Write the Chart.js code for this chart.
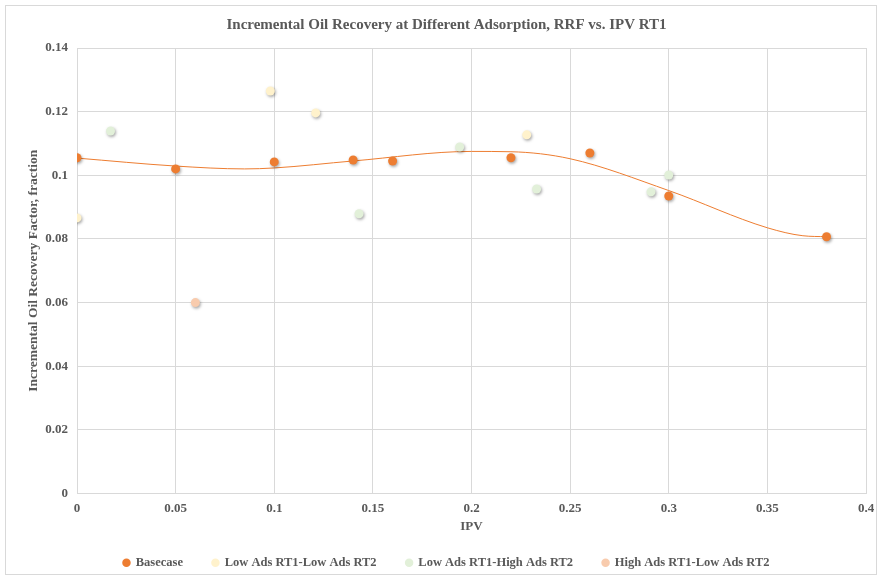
<!DOCTYPE html>
<html lang="en">
<head>
  <meta charset="UTF-8" />
  <title>Incremental Oil Recovery</title>
  <script src="https://cdn.jsdelivr.net/npm/chart.js"></script>
  <style>
    body {
      margin: 0;
      background: #ffffff;
    }
    .wrap {
      position: absolute;
      left: 5px;
      top: 5px;
      width: 872px;
      height: 570px;
      border: 1px solid #d9d9d9;
      box-sizing: border-box;
    }
    canvas {
      position: absolute;
      left: -6px;
      top: -6px;
    }
  </style>
</head>
<body>
  <div class="wrap">
    <canvas id="oilChart" width="878" height="576"></canvas>
  </div>

  <script>
    // series (IPV, incremental recovery factor)
    const baseX = [0, 0.05, 0.1, 0.14, 0.16, 0.22, 0.26, 0.3, 0.38];
    const baseY = [0.1055, 0.1020, 0.1042, 0.1048, 0.1045, 0.1055, 0.1070, 0.0935, 0.0807];

    const lowLowX = [0, 0.098, 0.121, 0.228];
    const lowLowY = [0.0866, 0.1265, 0.1196, 0.1127];

    const lowHighX = [0.017, 0.143, 0.194, 0.233, 0.291, 0.3];
    const lowHighY = [0.1139, 0.0879, 0.1089, 0.0957, 0.0948, 0.1001];

    const highLowX = [0.06];
    const highLowY = [0.0600];

    // trendline of the basecase
    const trendX = [0, 0.05, 0.085, 0.1, 0.14, 0.2, 0.22, 0.25, 0.3, 0.35, 0.368, 0.38];
    const trendY = [0.1054, 0.1029, 0.1020, 0.1023, 0.1045, 0.1075, 0.1074, 0.1052, 0.0952, 0.0835, 0.0810, 0.0807];

    const xTicks = [0, 0.05, 0.1, 0.15, 0.2, 0.25, 0.3, 0.35, 0.4];
    const yTicks = [0, 0.02, 0.04, 0.06, 0.08, 0.1, 0.12, 0.14];

    const toPoints = (xs, ys) => xs.map((x, i) => ({ x: x, y: ys[i] }));

    const textColor = '#595959';
    const serif = "'Liberation Serif', 'Times New Roman', serif";

    // soft drop shadow under markers, like the office chart
    const shadowPlugin = {
      id: 'markerShadow',
      beforeDatasetDraw(chart, args) {
        if (args.meta.type === 'line') return;
        const ctx = chart.ctx;
        ctx.save();
        ctx.shadowColor = 'rgba(0,0,0,0.35)';
        ctx.shadowBlur = 3;
        ctx.shadowOffsetX = 1;
        ctx.shadowOffsetY = 1.5;
      },
      afterDatasetDraw(chart, args) {
        if (args.meta.type === 'line') return;
        chart.ctx.restore();
      }
    };

    function scatterSet(label, xs, ys, color) {
      return {
        type: 'scatter',
        label: label,
        data: toPoints(xs, ys),
        backgroundColor: color,
        borderColor: color,
        pointRadius: 4.5,
        pointHoverRadius: 4.5,
        borderWidth: 0
      };
    }

    const ctx = document.getElementById('oilChart').getContext('2d');

    new Chart(ctx, {
      type: 'scatter',
      data: {
        datasets: [
          scatterSet('Basecase', baseX, baseY, '#ED7D31'),
          scatterSet('Low Ads RT1-Low Ads RT2', lowLowX, lowLowY, '#FFF2CC'),
          scatterSet('Low Ads RT1-High Ads RT2', lowHighX, lowHighY, '#E2F0D9'),
          scatterSet('High Ads RT1-Low Ads RT2', highLowX, highLowY, '#F8CBAD'),
          {
            type: 'line',
            label: 'trend',
            data: toPoints(trendX, trendY),
            borderColor: '#ED7D31',
            borderWidth: 1,
            pointRadius: 0,
            fill: false,
            cubicInterpolationMode: 'monotone',
            order: 10
          }
        ]
      },
      options: {
        responsive: false,
        animation: false,
        layout: { padding: { left: 21, right: 6, top: 8, bottom: -3 } },
        plugins: {
          title: {
            display: true,
            text: 'Incremental Oil Recovery at Different Adsorption, RRF vs. IPV RT1',
            color: textColor,
            font: { family: serif, size: 15, weight: 'bold' },
            padding: { top: 8, bottom: 14 }
          },
          legend: {
            position: 'bottom',
            labels: {
              color: textColor,
              font: { family: serif, size: 12.5, weight: 'bold' },
              usePointStyle: true,
              pointStyle: 'circle',
              boxWidth: 6,
              boxHeight: 6,
              padding: 17,
              // trendline is not listed; a few spaces widen the gaps between items
              generateLabels: chart => {
                const items = Chart.defaults.plugins.legend.labels.generateLabels(chart)
                  .filter(item => item.text !== 'trend');
                return items.map((item, i) => Object.assign(item, {
                  text: i < items.length - 1 ? item.text + '    ' : item.text
                }));
              }
            }
          },
          tooltip: { enabled: false }
        },
        scales: {
          x: {
            type: 'linear',
            min: 0,
            max: 0.4,
            afterBuildTicks: axis => { axis.ticks = xTicks.map(v => ({ value: v })); },
            afterFit: axis => { axis.height = 46; axis.paddingRight = 12; },
            ticks: {
              color: textColor,
              font: { family: serif, size: 13, weight: 'bold' },
              padding: 7,
              callback: v => String(v)
            },
            grid: { color: '#d9d9d9', drawTicks: false },
            border: { display: false },
            title: {
              display: true,
              text: 'IPV',
              color: textColor,
              font: { family: serif, size: 13, weight: 'bold' },
              padding: { top: 2, bottom: 5 }
            }
          },
          y: {
            type: 'linear',
            min: 0,
            max: 0.14,
            afterBuildTicks: axis => { axis.ticks = yTicks.map(v => ({ value: v })); },
            afterFit: axis => { axis.width = 56; },
            ticks: {
              color: textColor,
              font: { family: serif, size: 13, weight: 'bold' },
              padding: 9,
              callback: v => String(v)
            },
            grid: { color: '#d9d9d9', drawTicks: false },
            border: { display: false },
            title: {
              display: true,
              text: 'Incremental Oil Recovery Factor, fraction',
              color: textColor,
              font: { family: serif, size: 13.5, weight: 'bold' }
            }
          }
        }
      },
      plugins: [shadowPlugin]
    });
  </script>
</body>
</html>
